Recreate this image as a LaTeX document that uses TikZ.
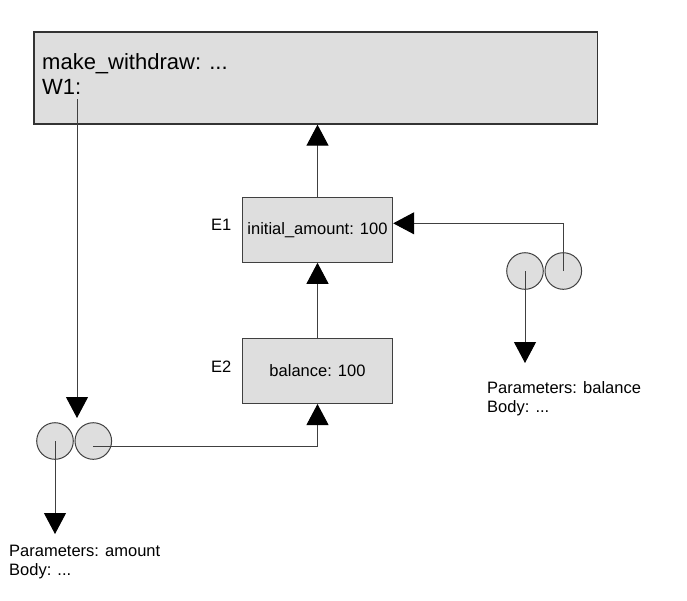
\documentclass[tikz,border=0pt]{standalone}
\usepackage{fontspec}
\setmainfont{Liberation Sans}
\usetikzlibrary{arrows.meta}

\begin{document}
\begin{tikzpicture}[x=1pt, y=-1pt,
		framebox/.style = {draw=black!80, line width=1.3pt, fill=black!13, minimum width=563.7pt, minimum height=92pt, inner sep=0pt},
		env/.style = {draw=black!75, line width=1pt, fill=black!13, minimum width=150.4pt, minimum height=65pt, inner sep=0pt, font=\fontsize{16.5}{19}\selectfont},
		main/.style = {draw=black!75, line width=1pt, fill=black!13, circle, minimum size=36.6pt, inner sep=0pt},
		txt/.style = {font=\fontsize{16.5}{19}\selectfont, inner sep=0pt, align=left},
		link/.style = {draw=black!75, line width=1pt, -{Triangle[width=22pt, length=21pt, color=black]}}]
		\useasboundingbox (0,0) rectangle (687,600);
		
		\node[framebox] (frame) at (315.8,78) {};
		\node[txt, anchor=base west, font=\fontsize{22}{24.7}\selectfont] (title) at (42,94) {make\_withdraw: ...\\W1:};
		\coordinate (w1) at (77,99);
		
		\node[env] (e1) at (317.5,229.8) {initial\_amount: 100};
		\node[env] (e2) at (317.5,371) {balance: 100};
		\node[txt, anchor=base west] (e1name) at (211,230.7) {E1};
		\node[txt, anchor=base west] (e2name) at (211,372) {E2};
		
		\node[main] (c1) at (55,441) {};
		\node[main] (c2) at (93.3,441) {};
		\node[main] (c3) at (525,271) {};
		\node[main] (c4) at (563.3,271) {};
		
		\coordinate (w1tip) at (77,418);
		\coordinate (c1tip) at (55,534);
		\coordinate (c3tip) at (525,363);
		
		\node[txt, anchor=base west] (amount) at (9,575.5) {Parameters: amount\\Body: ...};
		\node[txt, anchor=base west] (balance) at (487,412.7) {Parameters: balance\\Body: ...};
		
		\draw[link] (e1.north) -- (e1.north |- frame.south);
		\draw[link] (e2.north) -- (e1.south);
		\draw[link] (w1) -- (w1tip);
		\draw[link] ([yshift=-5pt]c2.center) -| (e2.south);
		\draw[link] (c1.center) -- (c1tip);
		\draw[link] (c4.center) |- ([yshift=6.5pt]e1.east);
		\draw[link] (c3.center) -- (c3tip);
	\end{tikzpicture}
\end{document}
